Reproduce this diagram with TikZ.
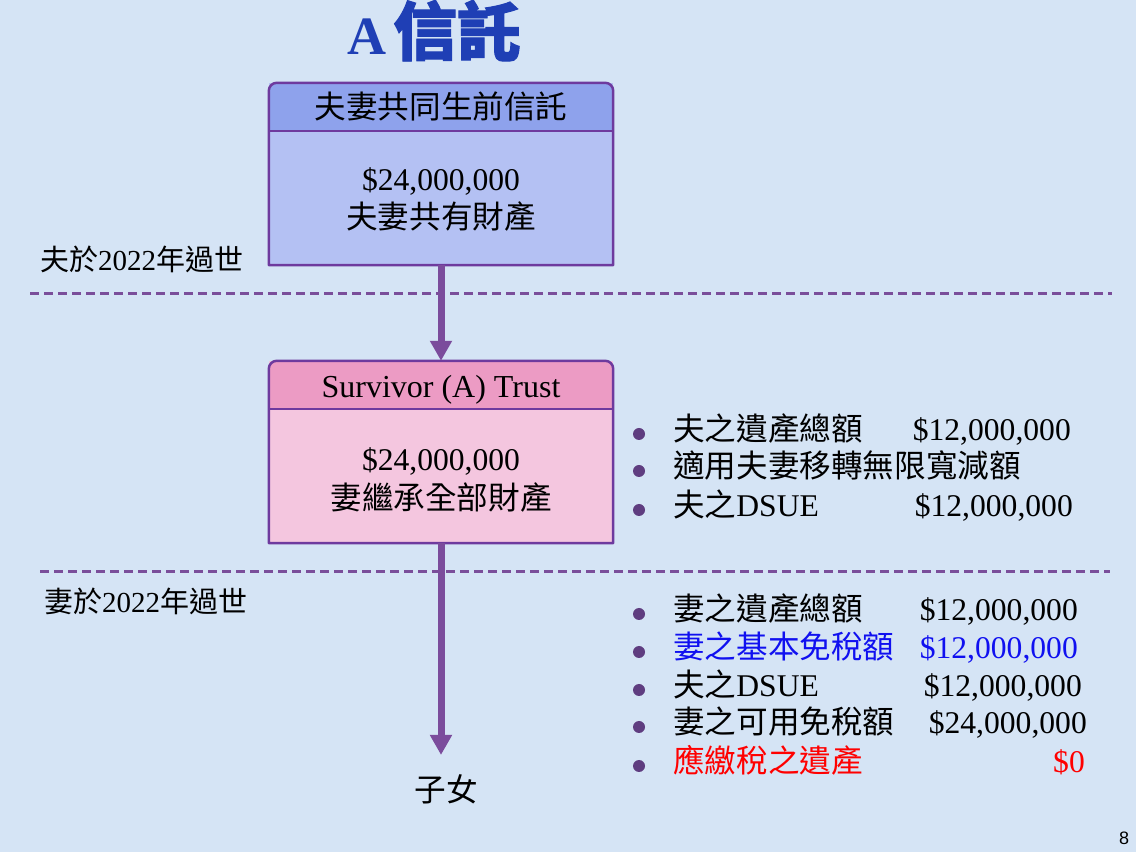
\documentclass[tikz,border=0pt]{standalone}
\usepackage{fontspec}
\setmainfont{Liberation Serif}
\newfontfamily\cjk{Noto Sans CJK TC}
\newfontfamily\cjktitle{Noto Sans CJK TC}[FakeBold=1.5]
\newfontfamily\pagefont{Liberation Sans}
\usetikzlibrary{arrows.meta,calc}
\definecolor{bgblue}{HTML}{D5E4F5}
\definecolor{headA}{HTML}{8EA2EC}
\definecolor{bodyA}{HTML}{B4C1F3}
\definecolor{headB}{HTML}{EC9BC4}
\definecolor{bodyB}{HTML}{F4C6DF}
\definecolor{frameline}{HTML}{6E3A9E}
\definecolor{flowc}{HTML}{7B4C9C}
\definecolor{sepc}{HTML}{7A4E9A}
\definecolor{titleblue}{HTML}{1F3FB5}
\definecolor{bulc}{HTML}{5F3D80}
\definecolor{txtblue}{HTML}{1010F0}
\definecolor{txtred}{HTML}{FF0000}
\newcommand\zh[1]{{\cjk #1}}
\newcommand\fsz[1]{\fontsize{#1}{#1}\selectfont}
\newcommand\boxshape[3]{%
  \fill[#3] (#1.south west) rectangle (#1.north east);
  \fill[#2] ($(#1.north west)+(0,-48)$) -- ($(#1.north west)+(0,-8)$)
     arc[start angle=180,end angle=90,radius=8] -- ($(#1.north east)+(-8,0)$)
     arc[start angle=90,end angle=0,radius=8] -- ($(#1.north east)+(0,-48)$) -- cycle;
  \draw[frameedge] (#1.south west) -- ($(#1.north west)+(0,-8)$)
     arc[start angle=180,end angle=90,radius=8] -- ($(#1.north east)+(-8,0)$)
     arc[start angle=90,end angle=0,radius=8] -- (#1.south east) -- cycle;
  \draw[frameedge] ($(#1.north west)+(0,-48)$) -- ($(#1.north east)+(0,-48)$);
}
\newcommand\bulletrow[6]{%
  \fill[bulc] (639,{#2+7}) circle (6);
  \node[itemtxt,text=#6,anchor=base west] (#1) at (673,#2) {#3};
  \node[itemtxt,text=#6,anchor=base east] (#1v) at (#5,#2) {#4};
}
\begin{document}
\begin{tikzpicture}[x=1pt,y=1pt,
  frame/.style={rectangle,minimum width=344pt,minimum height=182pt,inner sep=0pt,draw=none},
  frameedge/.style={draw=frameline,line width=2.5pt,line join=round},
  flow/.style={draw=flowc,line width=7pt,-{Triangle[length=20pt,width=21pt]}},
  sepline/.style={draw=sepc,line width=3pt,dash pattern=on 9pt off 5pt},
  boxtxt/.style={inner sep=0pt,font=\fsz{31.6}},
  labtxt/.style={inner sep=0pt,font=\fsz{29},anchor=base west},
  itemtxt/.style={inner sep=0pt,font=\fsz{31.6}}]
\fill[bgblue] (0,0) rectangle (1136,852);
\useasboundingbox (0,0) rectangle (1136,852);

% title
\node[inner sep=0pt,anchor=base west,text=titleblue] (title) at (347,797) {\bfseries\fsz{54}A\hspace{7pt}\cjktitle\bfseries\fsz{64}信託};

% separators
\draw[sepline] (30,558) -- (1112,558);
\draw[sepline] (40,280) -- (1110,280);

% boxes
\node[frame] (b1) at (441,678) {};
\boxshape{b1}{headA}{bodyA}
\node[frame] (b2) at (441,400) {};
\boxshape{b2}{headB}{bodyB}

\node[boxtxt,anchor=base] (h1) at (441,733) {\zh{夫妻共同生前信託}};
\node[boxtxt,anchor=base] (v1) at (441,661) {\$24,000,000};
\node[boxtxt,anchor=base] (t1) at (441,623) {\zh{夫妻共有財產}};

\node[boxtxt,anchor=base,font=\fsz{32}] (h2) at (441,454) {Survivor (A) Trust};
\node[boxtxt,anchor=base] (v2) at (441,381) {\$24,000,000};
\node[boxtxt,anchor=base] (t2) at (441,342) {\zh{妻繼承全部財產}};

% left labels
\node[labtxt] (lab1) at (40,581) {\zh{夫於}2022\zh{年過世}};
\node[labtxt] (lab2) at (44,239) {\zh{妻於}2022\zh{年過世}};

% children
\node[boxtxt,anchor=base] (kids) at (446,50) {\zh{子女}};

% arrows
\draw[flow] (b1.south) -- (b2.north);
\draw[flow,shorten >=20pt] (b2.south) -- (b2.south |- kids.north);

% bullet lists
\bulletrow{r1}{411}{\zh{夫之遺產總額}}{\$12,000,000}{1071}{black}
\bulletrow{r2}{374}{\zh{適用夫妻移轉無限寬減額}}{}{1071}{black}
\bulletrow{r3}{335}{\zh{夫之}DSUE}{\$12,000,000}{1073}{black}
\bulletrow{r4}{231}{\zh{妻之遺產總額}}{\$12,000,000}{1078}{black}
\bulletrow{r5}{193}{\zh{妻之基本免稅額}}{\$12,000,000}{1078}{txtblue}
\bulletrow{r6}{155}{\zh{夫之}DSUE}{\$12,000,000}{1082}{black}
\bulletrow{r7}{118}{\zh{妻之可用免稅額}}{\$24,000,000}{1087}{black}
\bulletrow{r8}{79}{\zh{應繳稅之遺產}}{\$0}{1085}{txtred}

% page number
\node[inner sep=0pt,anchor=base,font=\pagefont\fsz{18}] (pg) at (1124,8) {8};
\end{tikzpicture}
\end{document}
